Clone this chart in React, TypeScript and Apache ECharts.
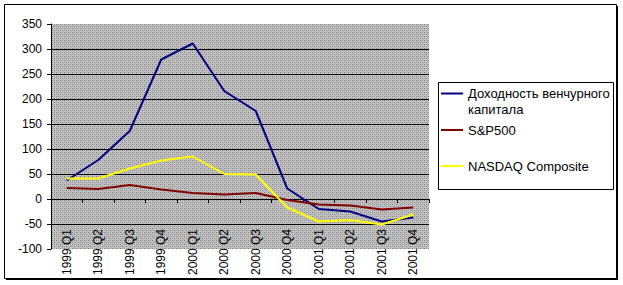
import React, { useEffect, useRef } from "react";
import * as echarts from "echarts";

const categories = [
  "1999 Q1", "1999 Q2", "1999 Q3", "1999 Q4",
  "2000 Q1", "2000 Q2", "2000 Q3", "2000 Q4",
  "2001 Q1", "2001 Q2", "2001 Q3", "2001 Q4",
];
const ventureName = "Доходность венчурного\nкапитала";
const spName = "S&P500";
const nasdaqName = "NASDAQ Composite";
const ventureValues = [37, 78, 136, 279, 311, 216, 176, 21, -20, -25, -45, -37];
const spValues = [22, 20, 28, 19, 12, 9, 12, -2, -11, -13, -21, -17];
const nasdaqValues = [41, 41, 61, 77, 85, 50, 49, -17, -45, -42, -51, -31];
const yMin = -100;
const yMax = 350;
const yStep = 50;

function makePattern() {
  const c = document.createElement("canvas");
  c.width = 4;
  c.height = 4;
  const ctx = c.getContext("2d");
  if (ctx) {
    ctx.fillStyle = "#c0c0c0";
    ctx.fillRect(0, 0, 4, 4);
    ctx.fillStyle = "#808080";
    ctx.fillRect(0, 0, 1, 1);
    ctx.fillRect(2, 2, 1, 1);
    ctx.fillStyle = "#a8a8a8";
    ctx.fillRect(2, 0, 1, 1);
    ctx.fillRect(0, 2, 1, 1);
  }
  return c;
}

export default function App() {
  const ref = useRef<HTMLDivElement>(null);
  useEffect(() => {
    if (!ref.current) return;
    const chart = echarts.init(ref.current, null, { renderer: "svg" });
    const font = "'Liberation Sans', Arial, sans-serif";
    const nLines = (yMax - yMin) / yStep + 1;
    const splitColors: string[] = [];
    for (let i = 0; i < nLines; i++) {
      splitColors.push(i === 0 || i === nLines - 1 ? "rgba(0,0,0,0)" : "#000000");
    }
    const legendBase = {
      left: 441,
      orient: "vertical" as const,
      padding: 0,
      icon: "rect",
      itemWidth: 22,
      itemHeight: 2,
      itemGap: 0,
      selectedMode: false,
    };
    const legendText = { fontSize: 13, lineHeight: 16, color: "#000", fontFamily: font };
    chart.setOption({
      animation: false,
      backgroundColor: "#ffffff",
      textStyle: { fontFamily: font },
      grid: {
        left: 51,
        top: 24,
        width: 378,
        height: 225,
        show: true,
        borderWidth: 0,
        containLabel: false,
        outerBoundsMode: "none",
        backgroundColor: { image: makePattern(), repeat: "repeat" },
      },
      xAxis: {
        type: "category",
        data: categories,
        boundaryGap: true,
        axisLine: { onZero: true, lineStyle: { color: "#000", width: 1 } },
        axisTick: { show: true, length: 4, lineStyle: { color: "#000" } },
        axisLabel: {
          rotate: 90,
          margin: -20,
          interval: 0,
          fontSize: 12,
          color: "#000",
          fontFamily: font,
        },
        splitLine: { show: false },
      },
      yAxis: {
        type: "value",
        min: yMin,
        max: yMax,
        interval: yStep,
        axisLine: { show: true, lineStyle: { color: "#000", width: 1 } },
        axisTick: { show: true, length: 4, lineStyle: { color: "#000" } },
        axisLabel: { margin: 9, fontSize: 12, color: "#000", fontFamily: font },
        splitLine: { show: true, lineStyle: { color: splitColors, width: 1 } },
      },
      legend: [
        {
          ...legendBase,
          top: 69.5,
          data: [ventureName],
          formatter: (name: string) => "\n" + name,
          textStyle: legendText,
        },
        {
          ...legendBase,
          top: 122,
          data: [spName],
          textStyle: legendText,
        },
        {
          ...legendBase,
          top: 158,
          data: [nasdaqName],
          textStyle: legendText,
        },
      ],
      graphic: [
        {
          type: "rect",
          z: -10,
          shape: { x: 4.5, y: 4.5, width: 612, height: 274 },
          style: { fill: "none", stroke: "#000", lineWidth: 1 },
          silent: true,
        },
        {
          type: "line",
          z: -10,
          shape: { x1: 617.5, y1: 6, x2: 617.5, y2: 280 },
          style: { stroke: "#000", lineWidth: 1 },
          silent: true,
        },
        {
          type: "line",
          z: -10,
          shape: { x1: 6, y1: 279.5, x2: 618, y2: 279.5 },
          style: { stroke: "#000", lineWidth: 1 },
          silent: true,
        },
        {
          type: "rect",
          z: 1,
          shape: { x: 438.5, y: 82.5, width: 175, height: 107 },
          style: { fill: "#ffffff", stroke: "#000", lineWidth: 1 },
          silent: true,
        },
      ],
      series: [
        {
          name: ventureName,
          type: "line",
          data: ventureValues,
          symbol: "none",
          color: "#000080",
          lineStyle: { color: "#000080", width: 2 },
        },
        {
          name: spName,
          type: "line",
          data: spValues,
          symbol: "none",
          color: "#800000",
          lineStyle: { color: "#800000", width: 2 },
        },
        {
          name: nasdaqName,
          type: "line",
          data: nasdaqValues,
          symbol: "none",
          color: "#ffff00",
          lineStyle: { color: "#ffff00", width: 2 },
        },
      ],
    });
    return () => chart.dispose();
  }, []);
  return (
    <div
      ref={ref}
      style={{ position: "absolute", left: 0, top: 0, width: 623, height: 285 }}
    />
  );
}
